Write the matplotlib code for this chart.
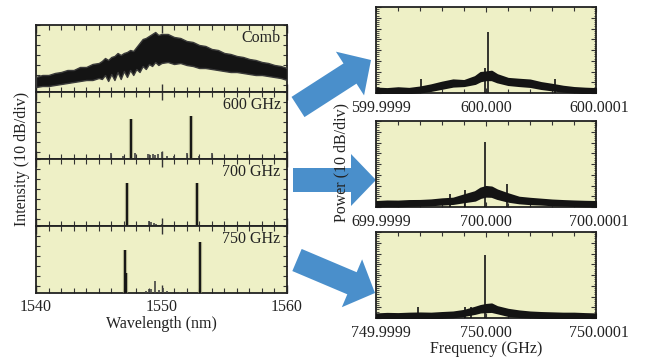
import matplotlib
matplotlib.use("Agg")
import matplotlib.pyplot as plt
import matplotlib.transforms as mtransforms
from matplotlib.patches import FancyArrow
from matplotlib.ticker import MultipleLocator, FixedLocator

plt.rcParams['font.family'] = ['Liberation Serif', 'DejaVu Serif']
plt.rcParams['font.size'] = 11.5

# ---------------- data: left (optical spectra, dB) ----------------
comb_wl = [1540, 1540.5, 1541, 1541.5, 1542, 1542.5, 1543, 1543.5, 1544, 1544.5, 1545,
           1545.25, 1545.5, 1545.75, 1546, 1546.25, 1546.5, 1546.75, 1547, 1547.25, 1547.5,
           1547.75, 1548, 1548.25, 1548.5, 1548.75, 1549, 1549.25, 1549.5, 1549.75, 1550,
           1550.5, 1551, 1551.5, 1552, 1552.5, 1553, 1553.5, 1554, 1554.5, 1555,
           1555.5, 1556, 1556.5, 1557, 1557.5, 1558, 1558.5, 1559, 1559.5, 1560]
comb_hi = [-52, -50, -50, -48, -47, -45, -45, -42, -42, -39, -38,
           -36, -33, -35, -32, -31, -28, -30, -28, -27, -25,
           -26, -22, -18, -14, -13, -11, -9, -7, -10, -9,
           -9, -12, -13, -16, -17, -20, -21, -24, -25, -28,
           -29, -31, -32, -34, -35, -37, -38, -40, -41, -43]
comb_lo = [-62, -61, -61, -60, -59, -58, -57, -56, -55, -55, -53,
           -54, -50, -56, -49, -55, -47, -54, -46, -52, -45,
           -50, -44, -47, -41, -44, -39, -41, -37, -40, -38,
           -37, -39, -38, -40, -41, -43, -43, -44, -45, -46,
           -47, -47, -48, -49, -50, -50, -51, -52, -53, -55]

labels_left = ["Comb", "600 GHz", "700 GHz", "750 GHz"]

p600_wl = [1547.55, 1552.37]
p600_db = [-27, -24]
s600_wl = [1545.97, 1546.9, 1547.9, 1548.6, 1548.9, 1549.1, 1549.3, 1549.5, 1549.7, 1550.05, 1550.4, 1551.0, 1552.0, 1553.0, 1554.0]
s600_db = [-61, -64, -61, -66, -62, -63, -62, -63, -62, -60, -64, -64, -61, -64, -61]

p700_wl = [1547.23, 1552.85]
p700_db = [-24, -24]
s700_wl = [1546.5, 1548.0, 1549.0, 1549.2, 1549.4, 1549.6, 1550.0, 1551.2, 1552.4]
s700_db = [-66, -66, -62, -63, -64, -65, -65, -66, -66]

p750_wl = [1547.07, 1547.15, 1553.06]
p750_db = [-24, -47, -16]
s750_wl = [1548.8, 1549.0, 1549.15, 1549.46, 1549.8, 1550.1, 1550.4, 1551.5, 1552.0]
s750_db = [-65, -63, -63, -55, -64, -62, -65, -66, -66]

left_x_ticks = [1540, 1550, 1560]
left_x_labels = ["1540", "1550", "1560"]

# ---------------- data: right (RF spectra, offset in kHz, dB) ----------------
rf_ticklabels = [["599.9999", "600.000", "600.0001"],
                 ["699.9999", "700.000", "700.0001"],
                 ["749.9999", "750.000", "750.0001"]]
rf_ticks = [-100, 0, 100]

rf_x = [-100, -90, -80, -70, -60, -50, -40, -30, -20, -10, -5, 0, 5, 10, 20, 30, 40, 50, 60, 70, 80, 90, 100]

rf600_hi = [-75.5, -76.0, -75.2, -75.8, -74.5, -72.5, -70.0, -67.9, -68.5, -64.8, -61.0, -60.5,
            -59.8, -63.0, -66.5, -67.3, -68.0, -70.4, -72.0, -73.8, -75.0, -75.6, -76.0]
rf600_lo = [-80, -80, -80, -79.5, -79.0, -77.5, -75.5, -73.5, -73.0, -71.0, -68.5, -67.5,
            -67.5, -69.5, -72.0, -73.0, -73.8, -75.7, -77.0, -78.2, -79.0, -79.6, -80]
rf600_sx = [1.5, -59, 63, -1]
rf600_sy = [-23, -67, -67, -57]

rf700_hi = [-75.0, -74.5, -74.6, -74.1, -74.0, -73.5, -72.5, -71.9, -68.8, -65.8, -62.5, -61.0,
            -61.5, -64.2, -67.8, -71.0, -72.0, -72.8, -73.6, -74.1, -74.5, -74.8, -75.0]
rf700_lo = [-79.1, -78.8, -78.9, -78.4, -78.2, -77.8, -77.2, -76.6, -75.0, -73.5, -71.0, -69.8,
            -70.0, -71.9, -74.5, -76.0, -76.8, -77.2, -77.8, -78.1, -78.5, -78.9, -79.1]
rf700_sx = [-1, 19, -19, -33]
rf700_sy = [-19.3, -59, -64, -68]

rf750_hi = [-76.3, -75.8, -76.0, -75.6, -75.4, -75.6, -75.0, -74.5, -73.0, -70.1, -68.5, -67.5,
            -67.0, -69.5, -72.0, -73.5, -74.5, -75.0, -75.3, -75.6, -75.6, -76.0, -76.3]
rf750_lo = [-80, -80, -80, -80, -79.8, -79.7, -79.3, -78.8, -77.5, -75.6, -74.3, -74.0,
            -73.8, -75.0, -77.5, -78.5, -79.0, -79.4, -79.6, -80, -80, -80, -80]
rf750_sx = [-1, -62, -19, -14]
rf750_sy = [-21.4, -69.5, -70, -70]

# ---------------- figure ----------------
W, H = 646, 358
fig = plt.figure(figsize=(W / 100, H / 100), dpi=100)
BG = '#EEF0C6'
INK = '#141414'
TXT = '#222222'


def px_axes(x0, y0, x1, y1):
    return fig.add_axes([x0 / W, 1 - y1 / H, (x1 - x0) / W, (y1 - y0) / H])


def style_spines(ax):
    for s in ax.spines.values():
        s.set_color('#222222')
        s.set_linewidth(1.3)


left_bounds = [(25, 92), (92, 159), (159, 226), (226, 293)]
left_axes = []
for i, (t, b) in enumerate(left_bounds):
    ax = px_axes(36, t, 287, b)
    ax.set_facecolor(BG)
    ax.set_xlim(1540, 1560)
    ax.set_ylim(-67, 0)
    ax.xaxis.set_major_locator(FixedLocator(left_x_ticks))
    ax.xaxis.set_minor_locator(MultipleLocator(1))
    ax.yaxis.set_major_locator(MultipleLocator(10))
    ax.tick_params(which='both', direction='in', top=True, right=True, color='#333333')
    ax.tick_params(axis='x', which='major', length=6, width=1)
    ax.tick_params(axis='x', which='minor', length=3.5, width=0.8)
    ax.tick_params(axis='y', which='major', length=3, width=0.8)
    ax.set_yticklabels([])
    if i < 3:
        ax.set_xticklabels([])
    else:
        ax.set_xticklabels(left_x_labels, color=TXT)
        ax.tick_params(axis='x', which='major', pad=4)
    style_spines(ax)
    ax.text(0.975, 0.93, labels_left[i], transform=ax.transAxes, ha='right', va='top', color=TXT)
    left_axes.append(ax)

# comb
axc = left_axes[0]
axc.fill_between(comb_wl, comb_lo, comb_hi, color=INK, edgecolor='#3a3a3a', linewidth=1.0, zorder=3)

# filtered spectra
for ax, pw, pd, sw, sd in [(left_axes[1], p600_wl, p600_db, s600_wl, s600_db),
                           (left_axes[2], p700_wl, p700_db, s700_wl, s700_db),
                           (left_axes[3], p750_wl, p750_db, s750_wl, s750_db)]:
    ax.vlines(sw, -67, sd, color='#444444', linewidth=1.2, zorder=3)
    ax.vlines(pw, -67, pd, color='#888866', linewidth=3.0, alpha=0.6, zorder=3)
    ax.vlines(pw, -67, pd, color=INK, linewidth=1.4, zorder=4)

left_axes[3].set_xlabel("Wavelength (nm)", color=TXT, labelpad=1)
fig.text(22 / W, 1 - 159 / H, "Intensity (10 dB/div)", rotation=90, ha='center', va='center', color=TXT)

# right panels
right_bounds = [(7, 93), (121, 207), (232, 318)]
rdata = [(rf600_hi, rf600_lo, rf600_sx, rf600_sy),
         (rf700_hi, rf700_lo, rf700_sx, rf700_sy),
         (rf750_hi, rf750_lo, rf750_sx, rf750_sy)]
label_shift = [5, 0, 3]
for i, (t, b) in enumerate(right_bounds):
    ax = px_axes(376, t, 596, b)
    ax.set_facecolor(BG)
    ax.set_xlim(-100, 100)
    ax.set_ylim(-80, 0)
    ax.xaxis.set_major_locator(FixedLocator(rf_ticks))
    ax.xaxis.set_minor_locator(MultipleLocator(20))
    ax.yaxis.set_major_locator(MultipleLocator(10))
    ax.yaxis.set_minor_locator(MultipleLocator(2))
    ax.tick_params(which='both', direction='in', top=True, right=True, color='#333333')
    ax.tick_params(axis='x', which='major', length=3.5, width=0.8, pad=5)
    ax.tick_params(axis='x', which='minor', length=3, width=0.8)
    ax.tick_params(axis='y', which='major', length=3.5, width=0.8)
    ax.tick_params(axis='y', which='minor', length=1.8, width=0.6)
    ax.set_yticklabels([])
    ax.set_xticklabels(rf_ticklabels[i], color=TXT)
    for lab, dx in zip(ax.get_xticklabels(), label_shift):
        lab.set_transform(lab.get_transform() +
                          mtransforms.ScaledTranslation(dx / 100, 0, fig.dpi_scale_trans))
    style_spines(ax)
    hi, lo, sx, sy = rdata[i]
    ax.fill_between(rf_x, lo, hi, color=INK, edgecolor=INK, linewidth=1.6, zorder=3)
    ax.vlines(sx, -80, sy, color=INK, linewidth=1.2, zorder=4)
    if i == 2:
        ax.set_xlabel("Frequency (GHz)", color=TXT, labelpad=0)

fig.text(341 / W, 1 - 162 / H, "Power (10 dB/div)", rotation=90, ha='center', va='center', color=TXT)

# arrows (overlay in pixel coordinates)
ov = fig.add_axes([0, 0, 1, 1])
ov.set_xlim(0, W)
ov.set_ylim(H, 0)
ov.axis('off')
ov.patch.set_alpha(0)
ov.set_zorder(-1)
ARROW = '#4A8FCB'
arrows = [((298, 107), (371, 60)), ((293, 180), (376, 180)), ((297, 260), (375, 293))]
for (x0, y0), (x1, y1) in arrows:
    ov.add_patch(FancyArrow(x0, y0, x1 - x0, y1 - y0, width=24, head_width=52, head_length=25,
                            length_includes_head=True, color=ARROW, linewidth=0))

fig.savefig("out.png", dpi=100)
